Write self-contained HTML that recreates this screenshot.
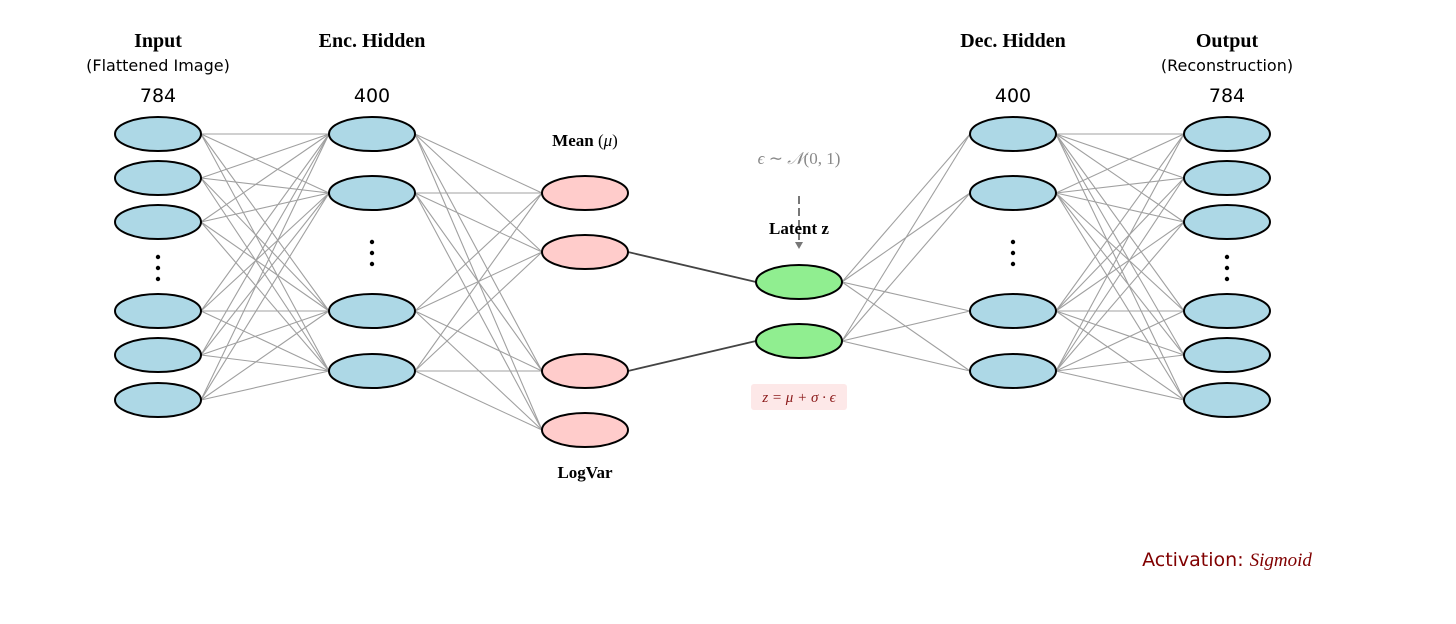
<!DOCTYPE html>
<html><head><meta charset="utf-8"><style>
html,body{margin:0;padding:0;background:#fff;width:1456px;height:624px;overflow:hidden}
svg text{font-family:"DejaVu Sans","Liberation Sans",sans-serif}
.b{font-family:"Liberation Serif",serif !important;font-weight:bold;font-size:20px}
</style></head><body>
<svg id="s" width="1456" height="624" xmlns="http://www.w3.org/2000/svg">
<g id="lines"></g>
<g id="nodes"></g>
<text x="158" y="47" text-anchor="middle" class="b">Input</text>
<text x="158" y="71" text-anchor="middle" font-size="16">(Flattened Image)</text>
<text x="158" y="102" text-anchor="middle" font-size="19">784</text>
<text x="372" y="47" text-anchor="middle" class="b">Enc. Hidden</text>
<text x="372" y="102" text-anchor="middle" font-size="19">400</text>
<text x="1013" y="47" text-anchor="middle" class="b">Dec. Hidden</text>
<text x="1013" y="102" text-anchor="middle" font-size="19">400</text>
<text x="1227" y="47" text-anchor="middle" class="b">Output</text>
<text x="1227" y="71" text-anchor="middle" font-size="16">(Reconstruction)</text>
<text x="1227" y="102" text-anchor="middle" font-size="19">784</text>
<text x="585" y="146" text-anchor="middle" class="b" style="font-size:17px">Mean <tspan font-weight="normal">(</tspan><tspan font-style="italic" font-weight="normal">μ</tspan><tspan font-weight="normal">)</tspan></text>
<text x="585" y="478" text-anchor="middle" class="b" style="font-size:17px">LogVar</text>
<text x="799" y="164" text-anchor="middle" font-size="17" fill="#888" style="font-family:'Liberation Serif',serif"><tspan font-style="italic">ϵ</tspan> ∼ <tspan font-style="italic">𝒩</tspan>(0, 1)</text>
<line x1="799" y1="196" x2="799" y2="243" stroke="#777" stroke-width="2" stroke-dasharray="8,4"/>
<polygon points="795,242 803,242 799,249" fill="#777"/>
<text x="799" y="234" text-anchor="middle" class="b" style="font-size:17px">Latent z</text>
<rect x="751" y="384" width="96" height="26" rx="3" fill="#fde8e8"/>
<text x="799" y="402" text-anchor="middle" font-size="15" fill="#8b1a1a" style="font-family:'Liberation Serif',serif;font-style:italic">z = μ + σ · ϵ</text>
<text x="1227" y="566" text-anchor="middle" font-size="19" fill="#800000">Activation: <tspan style="font-family:'Liberation Serif',serif;font-style:italic">Sigmoid</tspan></text>
</svg>
<script>
var NS="http://www.w3.org/2000/svg",L=document.getElementById("lines"),N=document.getElementById("nodes");
var inY=[134,178,222,311,355,400],encY=[134,193,311,371],mv=[193,252,371,430],zY=[282,341];
function ln(x1,y1,x2,y2,c,w){var l=document.createElementNS(NS,"line");l.setAttribute("x1",x1);l.setAttribute("y1",y1);l.setAttribute("x2",x2);l.setAttribute("y2",y2);l.setAttribute("stroke",c);l.setAttribute("stroke-width",w);L.appendChild(l);}
function full(xa,A,xb,B){A.forEach(a=>B.forEach(b=>ln(xa+43,a,xb-43,b,"#a0a0a0",1.1)));}
full(158,inY,372,encY);full(372,encY,585,mv);full(799,zY,1013,encY);full(1013,encY,1227,inY);
ln(628,252,756,282,"#444",1.8);ln(628,371,756,341,"#444",1.8);
function el(x,y,f){var e=document.createElementNS(NS,"ellipse");e.setAttribute("cx",x);e.setAttribute("cy",y);e.setAttribute("rx",43);e.setAttribute("ry",17);e.setAttribute("fill",f);e.setAttribute("stroke","#000");e.setAttribute("stroke-width",2);N.appendChild(e);}
function dots(x,y){[-11,0,11].forEach(d=>{var c=document.createElementNS(NS,"circle");c.setAttribute("cx",x);c.setAttribute("cy",y+d);c.setAttribute("r",2.2);N.appendChild(c);});}
inY.forEach(y=>{el(158,y,"#add8e6");el(1227,y,"#add8e6");});
encY.forEach(y=>{el(372,y,"#add8e6");el(1013,y,"#add8e6");});
mv.forEach(y=>el(585,y,"#ffcccb"));zY.forEach(y=>el(799,y,"#90ee90"));
dots(158,268);dots(1227,268);dots(372,253);dots(1013,253);
</script>
</body></html>
